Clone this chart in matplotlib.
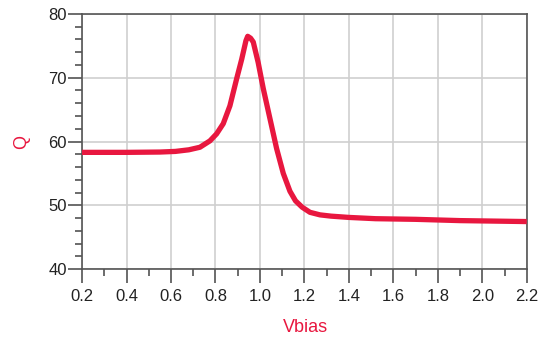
import matplotlib
matplotlib.use("Agg")
import matplotlib.pyplot as plt
from matplotlib.ticker import MultipleLocator
import numpy as np

# Q versus bias voltage
vbias = [0.20, 0.40, 0.55, 0.62, 0.68, 0.73, 0.775, 0.805, 0.835, 0.865,
         0.895, 0.918, 0.937, 0.945, 0.958, 0.970, 0.992, 1.015, 1.045,
         1.075, 1.105, 1.135, 1.160, 1.190, 1.225, 1.27, 1.32, 1.40, 1.52,
         1.70, 1.90, 2.10, 2.20]
q = [58.3, 58.3, 58.35, 58.45, 58.7, 59.1, 60.1, 61.2, 62.8, 65.6,
     69.8, 72.9, 75.8, 76.5, 76.2, 75.6, 72.4, 68.3, 63.6,
     58.9, 55.0, 52.2, 50.7, 49.7, 48.9, 48.5, 48.3, 48.1, 47.9,
     47.8, 47.6, 47.5, 47.45]

red = "#e8173f"
plt.rcParams["font.family"] = ["Liberation Sans", "DejaVu Sans"]

fig = plt.figure(figsize=(5.47, 3.49), dpi=100)
ax = fig.add_axes([0.150, 0.229, 0.813, 0.731])

ax.plot(vbias, q, color=red, lw=3.8, solid_joinstyle="round", solid_capstyle="butt", zorder=3)

ax.set_xlim(0.2, 2.2)
ax.set_ylim(40, 80)
ax.xaxis.set_minor_locator(MultipleLocator(0.1))
ax.yaxis.set_major_locator(MultipleLocator(10))
ax.yaxis.set_minor_locator(MultipleLocator(2))
ax.set_xticks(np.arange(0.2, 2.21, 0.2))
ax.set_xticklabels(["%.1f" % v for v in np.arange(0.2, 2.21, 0.2)])

ax.grid(True, which="major", color="#cfcfcf", lw=1.2, zorder=0)
ax.tick_params(which="major", direction="out", length=10, width=1.1, color="#444444",
               labelsize=12, labelcolor="#222222")
ax.tick_params(axis="y", which="major", pad=1)
ax.tick_params(axis="x", which="major", pad=4)
ax.tick_params(which="minor", direction="out", length=5, width=1.1, color="#444444")
for side in ax.spines.values():
    side.set_color("#555555")
    side.set_linewidth(1.2)

fig.text(0.040, 1 - 142 / 349, "Q", color=red, fontsize=13, rotation=90,
         ha="center", va="center")
fig.text(305 / 547, 1 - 328 / 349, "Vbias", color=red, fontsize=13,
         ha="center", va="center")

fig.savefig("out.png", dpi=100, facecolor="white")
